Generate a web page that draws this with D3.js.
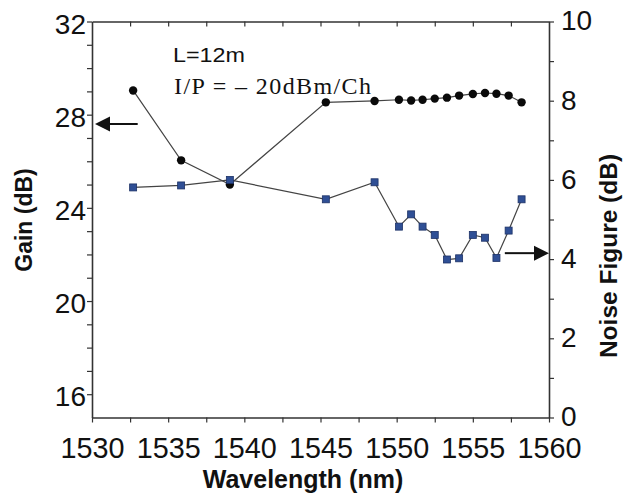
<!DOCTYPE html>
<html>
<head>
<meta charset="utf-8">
<script src="https://cdn.jsdelivr.net/npm/d3@7"></script>
<style>
  html, body { margin: 0; padding: 0; background: #fff; }
  svg { display: block; }
</style>
</head>
<body>
<svg id="chart" width="624" height="494"></svg>
<script>
// ---- data ----
const wavelength = [1532.7, 1535.85, 1539.05, 1545.35, 1548.55, 1550.15, 1550.95, 1551.7, 1552.5, 1553.3, 1554.1, 1555.0, 1555.8, 1556.55, 1557.35, 1558.2];
const gain = [29.04, 26.04, 25.0, 28.53, 28.59, 28.64, 28.61, 28.64, 28.69, 28.73, 28.82, 28.89, 28.93, 28.90, 28.82, 28.53];
const noiseFigure = [5.81, 5.86, 6.0, 5.51, 5.94, 4.82, 5.13, 4.82, 4.61, 3.99, 4.02, 4.61, 4.54, 4.03, 4.72, 5.51];
const xTicks = [1530, 1535, 1540, 1545, 1550, 1555, 1560];
const gainTicks = [16, 20, 24, 28, 32];
const nfTicks = [0, 2, 4, 6, 8, 10];
const gainArrow = { value: 27.6, from: 1533, to: 1530 };
const nfArrow = { value: 4.15, from: 1557.1, to: 1560 };
const annotations = ["L=12m", "I/P = \u2013 20dBm/Ch"];

// ---- layout ----
const L = 92, R = 549, T = 21.5, B = 417.5;
const svg = d3.select("#chart");
const x = d3.scaleLinear().domain([1530, 1560]).range([L, R]);
const yG = d3.scaleLinear().domain([15, 32]).range([B, T]);
const yN = d3.scaleLinear().domain([0, 10]).range([B, T]);

const axisColor = "#333";
const fontSans = "'Liberation Sans', Arial, Helvetica, sans-serif";

function styleAxis(g, fs) {
  g.select(".domain").attr("stroke", axisColor).attr("stroke-width", 1.6);
  g.selectAll(".tick line").attr("stroke", axisColor).attr("stroke-width", 1.2);
  g.selectAll(".tick text").attr("font-family", fontSans).attr("font-size", fs || 28).attr("fill", "#111");
}

// minor tick values
const xMinor = d3.range(1530, 1560.01, 2.5);
const gMinor = d3.range(16, 32.01, 1);
const nMinor = d3.range(0, 10.01, 1);

// bottom axis (ticks outward)
const gx = svg.append("g").attr("transform", `translate(0,${B})`)
  .call(d3.axisBottom(x).tickValues(xMinor).tickSize(5).tickSizeOuter(0)
    .tickFormat(d => xTicks.includes(d) ? d3.format("d")(d) : ""));
styleAxis(gx, 29);
gx.selectAll(".tick text").attr("dy", null).attr("y", 40.5)
  .attr("textLength", d => xTicks.includes(d) ? 64 : null)
  .attr("lengthAdjust", "spacingAndGlyphs");

// top axis (ticks inward)
const gxt = svg.append("g").attr("transform", `translate(0,${T})`)
  .call(d3.axisBottom(x).tickValues(xMinor.filter(d => d > 1530 && d < 1560)).tickSize(5).tickSizeOuter(0).tickFormat(""));
styleAxis(gxt);

// left axis
const gl = svg.append("g").attr("transform", `translate(${L},0)`)
  .call(d3.axisLeft(yG).tickValues(gMinor).tickSize(5).tickSizeOuter(0)
    .tickFormat(d => gainTicks.includes(d) ? d : ""));
styleAxis(gl, 28);
gl.selectAll(".tick text").attr("x", -6).attr("dy", "0.42em");

// right axis
const gr = svg.append("g").attr("transform", `translate(${R},0)`)
  .call(d3.axisRight(yN).tickValues(nMinor).tickSize(5).tickSizeOuter(0)
    .tickFormat(d => nfTicks.includes(d) ? d : ""));
styleAxis(gr, 28);
gr.selectAll(".tick text").attr("x", 12).attr("dy", "0.3em");

// axis titles
svg.append("text").attr("x", 303).attr("y", 488).attr("text-anchor", "middle")
  .attr("font-family", fontSans).attr("font-weight", "bold").attr("font-size", 25).attr("fill", "#111")
  .text("Wavelength (nm)");
svg.append("text").attr("transform", "translate(32,220) rotate(-90)").attr("text-anchor", "middle")
  .attr("font-family", fontSans).attr("font-weight", "bold").attr("font-size", 23).attr("fill", "#111")
  .text("Gain (dB)");
svg.append("text").attr("transform", "translate(617,256) rotate(-90)").attr("text-anchor", "middle")
  .attr("font-family", fontSans).attr("font-weight", "bold").attr("font-size", 24.5).attr("fill", "#111")
  .text("Noise Figure (dB)");

// ---- series ----
const lineG = d3.line().x((d, i) => x(wavelength[i])).y(d => yG(d));
const lineN = d3.line().x((d, i) => x(wavelength[i])).y(d => yN(d));

svg.append("path").datum(gain).attr("d", lineG).attr("fill", "none").attr("stroke", "#444").attr("stroke-width", 1.2);
svg.append("g").selectAll("circle").data(gain).join("circle")
  .attr("cx", (d, i) => x(wavelength[i])).attr("cy", d => yG(d)).attr("r", 4.2).attr("fill", "#0a0a0a");

svg.append("path").datum(noiseFigure).attr("d", lineN).attr("fill", "none").attr("stroke", "#444").attr("stroke-width", 1.2);
const sq = 7;
svg.append("g").selectAll("rect").data(noiseFigure).join("rect")
  .attr("x", (d, i) => x(wavelength[i]) - sq / 2).attr("y", d => yN(d) - sq / 2)
  .attr("width", sq).attr("height", sq).attr("fill", "#2f4f95").attr("stroke", "#1d3266").attr("stroke-width", 0.8);

// ---- arrows ----
function arrow(x1, x2, y) {
  const dir = Math.sign(x2 - x1);
  const head = 15, half = 7.5;
  svg.append("line").attr("x1", x1).attr("x2", x2 - dir * head).attr("y1", y).attr("y2", y)
    .attr("stroke", "#111").attr("stroke-width", 2);
  svg.append("path")
    .attr("d", `M${x2},${y} L${x2 - dir * head},${y - half} L${x2 - dir * head},${y + half} Z`)
    .attr("fill", "#111");
}
arrow(x(gainArrow.from), x(gainArrow.to) + 3, yG(gainArrow.value));
arrow(x(nfArrow.from), x(nfArrow.to), yN(nfArrow.value));

// ---- annotations ----
svg.append("text").attr("x", 173).attr("y", 62).attr("font-family", fontSans).attr("font-size", 20)
  .attr("fill", "#111").attr("textLength", 72).attr("lengthAdjust", "spacingAndGlyphs").text(annotations[0]);
svg.append("text").attr("x", 174).attr("y", 94).attr("font-family", "'Liberation Serif', 'Times New Roman', serif")
  .attr("font-size", 24).attr("fill", "#111").attr("textLength", 197).attr("lengthAdjust", "spacing")
  .attr("xml:space", "preserve").text(annotations[1]);
</script>
</body>
</html>
